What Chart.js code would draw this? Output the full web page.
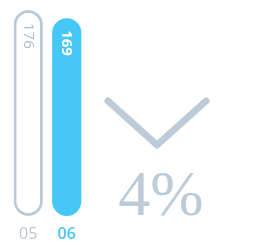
<!DOCTYPE html>
<html><head><meta charset="utf-8">
<script src="https://cdn.jsdelivr.net/npm/chart.js@4/dist/chart.umd.min.js"></script>
<style>
html,body{margin:0;padding:0;background:#fff;width:268px;height:245px;overflow:hidden;}
#wrap{position:absolute;left:0;top:0;width:95px;height:245px;}
#chev{position:absolute;left:0;top:0;}
#pct{position:absolute;left:95px;width:132px;top:154px;text-align:center;font-family:"Liberation Serif",serif;font-size:64px;line-height:80px;color:#bccbd8;}
</style></head>
<body>
<div id="wrap"><canvas id="c"></canvas></div>
<svg id="chev" width="268" height="245"><polyline points="108,101 157,145 206,101" fill="none" stroke="#bccbd8" stroke-width="7" stroke-linecap="round" stroke-linejoin="round"/></svg>
<div id="pct">4%</div>
<script>
const categories = ['05', '06'];
const values = [176, 169];
const changeText = '4%';
const grey = '#b9c9d8';
const blue = '#45c8f5';
document.getElementById('pct').textContent = changeText;

const labelPlugin = {
  id: 'vlabels',
  afterDatasetsDraw(chart) {
    const ctx = chart.ctx;
    const meta = chart.getDatasetMeta(0);
    meta.data.forEach((bar, i) => {
      ctx.save();
      ctx.translate(bar.x, bar.y + (i === 1 ? 12 : 13));
      ctx.rotate(Math.PI / 2);
      ctx.font = (i === 1 ? '700 ' : '500 ') + '15px "Open Sans"';
      ctx.fillStyle = i === 1 ? '#ffffff' : '#a9bcd0';
      ctx.textAlign = 'left';
      ctx.textBaseline = 'middle';
      ctx.fillText(String(values[i]), 0, 0);
      ctx.restore();
    });
  }
};

new Chart(document.getElementById('c'), {
  type: 'bar',
  data: {
    labels: categories,
    datasets: [{
      data: values,
      backgroundColor: ['#ffffff', blue],
      borderColor: [grey, blue],
      borderWidth: [3, 0],
      borderRadius: 15,
      borderSkipped: false,
      barPercentage: 0.76,
      categoryPercentage: 1
    }]
  },
  options: {
    responsive: true,
    maintainAspectRatio: false,
    animation: false,
    events: [],
    layout: { padding: { left: 9, right: 9, top: 10, bottom: 0 } },
    plugins: { legend: { display: false }, tooltip: { enabled: false } },
    scales: {
      y: { display: false, min: 0, max: 176 },
      x: {
        afterFit(s) { s.height = 29; },
        grid: { display: false, drawTicks: false },
        border: { display: false },
        ticks: {
          padding: 9,
          maxRotation: 0,
          minRotation: 0,
          color: (c) => c.index === 1 ? blue : grey,
          font: (c) => ({ family: 'Open Sans', size: 16, weight: c.index === 1 ? '600' : '400' })
        }
      }
    }
  },
  plugins: [labelPlugin]
});
</script>
</body></html>
